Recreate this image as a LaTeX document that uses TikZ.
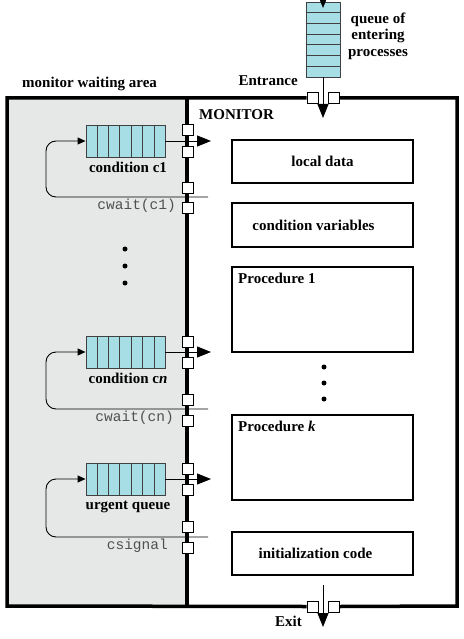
\documentclass[tikz,border=0pt]{standalone}
\usepackage{fontspec}
\setmainfont{Liberation Serif}
\setmonofont{Liberation Mono}
\usetikzlibrary{arrows.meta,calc}
\definecolor{areagray}{HTML}{E6E7E7}
\definecolor{qcyan}{HTML}{A7DDE5}
\definecolor{codegray}{HTML}{505050}
\begin{document}
\begin{tikzpicture}[x=1pt,y=-1pt,
  lbl/.style={font=\fontsize{15}{16.5}\selectfont\bfseries, inner sep=0pt},
  code/.style={font=\fontsize{14.5}{16}\selectfont\ttfamily, text=codegray, inner sep=0pt},
  part/.style={draw, line width=1.8pt, minimum width=181pt, inner sep=0pt,
    font=\fontsize{15}{16.5}\selectfont\bfseries},
  port/.style={draw, fill=white, line width=0.9pt, minimum size=11pt, inner sep=0pt},
  hq/.style={draw=black!75, fill=qcyan, line width=0.9pt, minimum width=79pt, minimum height=32pt, inner sep=0pt},
  vq/.style={draw=black!75, fill=qcyan, line width=0.9pt, minimum width=34pt, minimum height=75pt, inner sep=0pt},
  bigtip/.style={-{Triangle[length=14pt,width=11pt]}, line width=0.9pt},
  looptip/.style={-{Triangle[length=8pt,width=7pt]}, line width=0.9pt, rounded corners=10pt},
  wall/.style={line width=3.5pt, line join=miter},
  dot/.style={circle, fill=black, inner sep=0pt, minimum size=5pt}
]
\useasboundingbox (0,0) rectangle (463,639);

% waiting area
\fill[areagray] (7,98) rectangle (187,606);

% ports on the outer frame
\node[port] (entL) at (312.5,98) {};
\node[port] (entR) at (334,98) {};
\node[port] (exL) at (312.5,606.5) {};
\node[port] (exR) at (333.5,606.5) {};

% outer frame and divider
\draw[wall] (entL.west) -- (7,98) -- (7,606) -- (exL.west);
\draw[wall] (exR.east) -- (457,606) -- (457,98) -- (entR.east);
\draw[wall] (187,98) -- (187,606);

% redraw ports above the walls
\node[port] at (entL) {};
\node[port] at (entR) {};
\node[port] at (exL) {};
\node[port] at (exR) {};

% entering queue
\node[vq] (eq) at (323,39.5) {};
\foreach \i in {1,...,6}
  \draw[black!75, line width=0.9pt] ($(eq.north west)!\i/7!(eq.south west)$) -- ($(eq.north east)!\i/7!(eq.south east)$);
\coordinate (topin) at (323,-6);
\coordinate (topend) at (323,8);
\draw[bigtip] (topin) -- (topend);
\coordinate (entTip) at (323,118);
\draw[bigtip] (eq.south) -- (entTip);
\node[lbl, align=center] (eqlbl) at (378,36) {queue of\\entering\\processes};
\node[lbl, anchor=base east] (entlbl) at (298,86) {Entrance};

% exit
\coordinate (exStart) at (323,585);
\coordinate (exTip) at (323,627);
\draw[bigtip] (exStart) -- (exTip);
\node[lbl, anchor=base east] (exlbl) at (302,626) {Exit};

% titles
\node[lbl, anchor=base west] (wait) at (22,88) {monitor waiting area};
\node[lbl, anchor=base west] (mon) at (199,120) {MONITOR};

% monitor parts
\node[part, minimum height=43pt] (local) at (322.5,161.5) {local data};
\node[part, minimum height=44pt] (cvars) at (322.5,225) {condition variables\hspace*{18pt}};
\node[part, minimum height=85pt] (proc1) at (322.5,309.5) {};
\node[lbl, anchor=base west] (p1lbl) at (238,283) {Procedure 1};
\node[part, minimum height=85pt] (prock) at (322.5,457.5) {};
\node[lbl, anchor=base west] (pklbl) at (238,431) {Procedure \textit{k}};
\node[part, minimum height=43pt] (init) at (322.5,553.5) {initialization code\hspace*{14pt}};

% dots
\foreach \y [count=\n] in {249,266,283} \node[dot] (ld\n) at (125,\y) {};
\foreach \y [count=\n] in {367,383,399} \node[dot] (rd\n) at (324,\y) {};

% waiting queues
\foreach \nm/\yc/\txt/\yl/\pa/\pb/\pc/\pd/\ly/\cd/\cx/\cy in {
  q1/141/{condition c1}/172/130/152/188/208/197/{cwait(c1)}/176/206,
  qn/352/{condition c\textit{n}}/383/342/363/400/421/409/{cwait(cn)}/174/418,
  qu/479/{urgent queue}/509/468.5/490/527/548/537/{csignal}/168/546}
{
  \node[hq] (\nm) at (125.5,\yc) {};
  \foreach \i in {1,...,6}
    \draw[black!75, line width=0.9pt] ($(\nm.north west)!\i/7!(\nm.north east)$) -- ($(\nm.south west)!\i/7!(\nm.south east)$);
  \node[lbl, anchor=base] (\nm lbl) at (128,\yl) {\txt};
  \node[port] (\nm pa) at (187.5,\pa) {};
  \node[port] (\nm pb) at (187.5,\pb) {};
  \node[port] (\nm pc) at (187.5,\pc) {};
  \node[port] (\nm pd) at (187.5,\pd) {};
  \coordinate (\nm out) at (211,\yc);
  \draw[bigtip] (\nm.east) -- (\nm out);
  \coordinate (\nm back) at (208,\ly);
  \draw[looptip] (\nm back) -- (46,\ly) -- (46,\yc) -- (\nm.west);
  \node[code, anchor=east] (\nm code) at (\cx,\cy) {\cd};
}
\end{tikzpicture}
\end{document}
